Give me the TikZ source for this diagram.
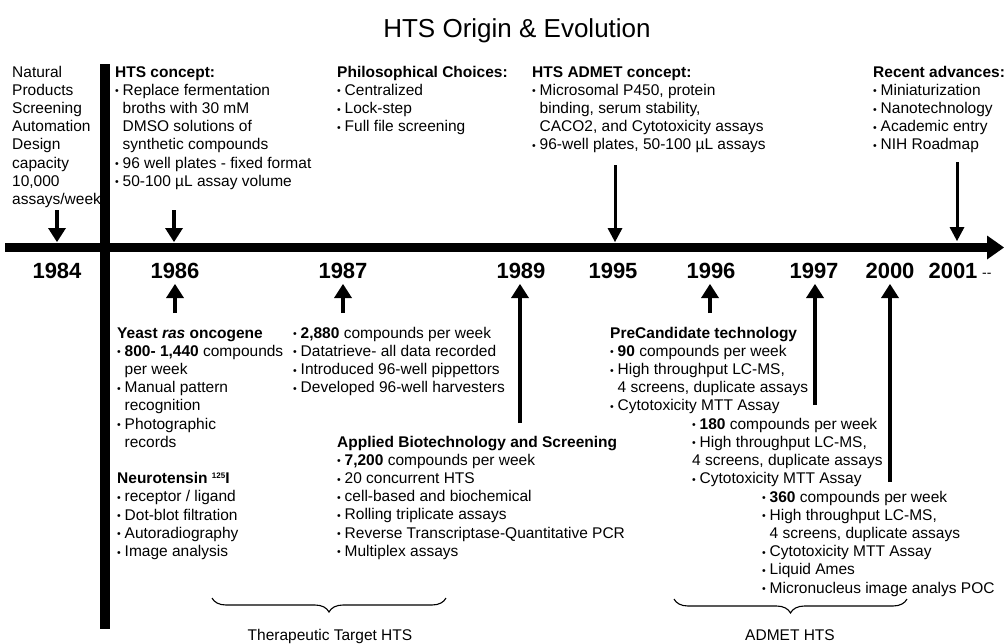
\documentclass[tikz,border=0pt]{standalone}
\usepackage{graphicx}
\usepackage{fontspec}
\setmainfont{Liberation Sans}
\usetikzlibrary{arrows.meta,decorations.pathreplacing}
\newcommand\bu{\makebox[7.5pt][l]{\raisebox{0.3pt}{\scalebox{0.68}{•}}}}
\newcommand\ii{\hspace*{7.5pt}}
\newcommand\tb[1]{\begin{tabular}[t]{@{}l@{}}#1\end{tabular}}
\tikzset{
  txt/.style={anchor=base west, inner sep=0pt, font=\fontsize{15.5}{18.2}\selectfont},
  yr/.style={anchor=base, inner sep=0pt, font=\fontsize{22}{22}\selectfont\bfseries},
  timeline/.style={line width=9pt, -{Triangle[width=24pt,length=17pt,line width=0pt]}},
  barline/.style={line width=10pt},
  arr/.style={line width=4pt, -{Triangle[width=18pt,length=14pt,line width=0pt]}},
  arrl/.style={line width=3pt, -{Triangle[width=15pt,length=14pt,line width=0pt]}},
  brc/.style={line width=1.1pt, decorate, decoration={brace, mirror, amplitude=14pt}},
  captxt/.style={anchor=base, inner sep=0pt, font=\fontsize{15.5}{18}\selectfont},
}
\begin{document}
\begin{tikzpicture}[x=1pt,y=-1pt]
\useasboundingbox (0,0) rectangle (1004,643);
% title
\node[anchor=base, inner sep=0pt, font=\fontsize{26}{26}\selectfont] (title) at (517,37) {HTS Origin \& Evolution};
% axes
\coordinate (tl0) at (5,247.5);
\coordinate (tl1) at (1004,247.5);
\draw[timeline] (tl0) -- (tl1);
\coordinate (vb0) at (105,64);
\coordinate (vb1) at (105,629);
\draw[barline] (vb0) -- (vb1);
% years
\node[yr] (y84) at (57,278) {1984};
\node[yr] (y86) at (175,278) {1986};
\node[yr] (y87) at (343,278) {1987};
\node[yr] (y89) at (521,278) {1989};
\node[yr] (y95) at (613,278) {1995};
\node[yr] (y96) at (711,278) {1996};
\node[yr] (y97) at (814,278) {1997};
\node[yr] (y00) at (890,278) {2000};
\node[yr] (y01) at (953,278) {2001};
\node[anchor=base west, inner sep=0pt, font=\fontsize{14}{14}\selectfont] (dash) at (982,277) {-{}-};
% top texts
\node[txt] (nat) at (12,77) {\tb{Natural\\Products\\Screening\\Automation\\Design\\capacity\\10,000\\assays/week}};
\node[txt] (hts) at (115,77) {\tb{\textbf{HTS concept:}\\\bu Replace fermentation\\\ii broths with 30 mM\\\ii DMSO solutions of\\\ii synthetic compounds\\\bu 96 well plates - fixed format\\\bu 50-100 µL assay volume}};
\node[txt] (phil) at (337,77) {\tb{\textbf{Philosophical Choices:}\\\bu Centralized\\\bu Lock-step\\\bu Full file screening}};
\node[txt] (admet) at (532,77) {\tb{\textbf{HTS ADMET concept:}\\\bu Microsomal P450, protein\\\ii binding, serum stability,\\\ii CACO2, and Cytotoxicity assays\\\bu 96-well plates, 50-100 µL assays}};
\node[txt] (recent) at (873,77) {\tb{\textbf{Recent advances:}\\\bu Miniaturization\\\bu Nanotechnology\\\bu Academic entry\\\bu NIH Roadmap}};
% bottom texts
\node[txt] (yeast) at (117,338) {\tb{\textbf{Yeast \textit{ras} oncogene}\\\bu\textbf{800- 1,440} compounds\\\ii per week\\\bu Manual pattern\\\ii recognition\\\bu Photographic\\\ii records\\ \\\textbf{Neurotensin \raisebox{5pt}{\fontsize{8}{8}\selectfont 125}I}\\\bu receptor / ligand\\\bu Dot-blot filtration\\\bu Autoradiography\\\bu Image analysis}};
\node[txt] (c2880) at (293,338) {\tb{\bu\textbf{2,880} compounds per week\\\bu Datatrieve- all data recorded\\\bu Introduced 96-well pippettors\\\bu Developed 96-well harvesters}};
\node[txt] (abs) at (337,447) {\tb{\textbf{Applied Biotechnology and Screening}\\\bu\textbf{7,200} compounds per week\\\bu 20 concurrent HTS\\\bu cell-based and biochemical\\\bu Rolling triplicate assays\\\bu Reverse Transcriptase-Quantitative PCR\\\bu Multiplex assays}};
\node[txt] (pre) at (610,338) {\tb{\textbf{PreCandidate technology}\\\bu\textbf{90} compounds per week\\\bu High throughput LC-MS,\\\ii 4 screens, duplicate assays\\\bu Cytotoxicity MTT Assay}};
\node[txt] (c180) at (692,429) {\tb{\bu\textbf{180} compounds per week\\\bu High throughput LC-MS,\\4 screens, duplicate assays\\\bu Cytotoxicity MTT Assay}};
\node[txt] (c360) at (762,502) {\tb{\bu\textbf{360} compounds per week\\\bu High throughput LC-MS,\\\ii 4 screens, duplicate assays\\\bu Cytotoxicity MTT Assay\\\bu Liquid Ames\\\bu Micronucleus image analys POC}};
% down arrows
\coordinate (d84a) at (57,210);  \coordinate (d84b) at (57,242);
\coordinate (d86a) at (174,210); \coordinate (d86b) at (174,242);
\coordinate (d95a) at (615,165); \coordinate (d95b) at (615,242);
\coordinate (d01a) at (957,162); \coordinate (d01b) at (957,241);
\draw[arr] (d84a) -- (d84b);
\draw[arr] (d86a) -- (d86b);
\draw[arrl] (d95a) -- (d95b);
\draw[arrl] (d01a) -- (d01b);
% up arrows
\coordinate (u86a) at (175,313); \coordinate (u86b) at (175,284);
\coordinate (u87a) at (343,313); \coordinate (u87b) at (343,284);
\coordinate (u89a) at (520,423); \coordinate (u89b) at (520,284);
\coordinate (u96a) at (710,313); \coordinate (u96b) at (710,284);
\coordinate (u97a) at (815,405); \coordinate (u97b) at (815,284);
\coordinate (u00a) at (890,482); \coordinate (u00b) at (890,284);
\draw[arr] (u86a) -- (u86b);
\draw[arr] (u87a) -- (u87b);
\draw[arr] (u89a) -- (u89b);
\draw[arr] (u96a) -- (u96b);
\draw[arr] (u97a) -- (u97b);
\draw[arr] (u00a) -- (u00b);
% braces
\coordinate (b1a) at (212,598); \coordinate (b1b) at (446,598);
\coordinate (b2a) at (674,599); \coordinate (b2b) at (907,599);
\draw[brc] (b1a) -- (b1b);
\draw[brc] (b2a) -- (b2b);
\node[captxt] (ttg) at (330,640) {Therapeutic Target HTS};
\node[captxt] (adm) at (790,640) {ADMET HTS};
\end{tikzpicture}
\end{document}
